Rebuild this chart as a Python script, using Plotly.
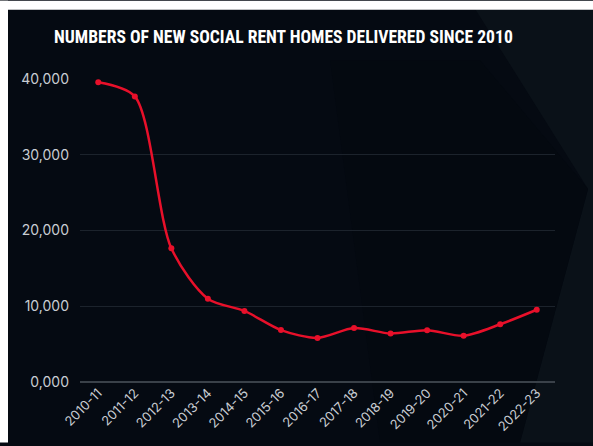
import plotly.graph_objects as go

years = ["2010-11", "2011-12", "2012-13", "2013-14", "2014-15", "2015-16", "2016-17",
         "2017-18", "2018-19", "2019-20", "2020-21", "2021-22", "2022-23"]
homes = [39580, 37700, 17650, 11000, 9380, 6850, 5820, 7120, 6400, 6840, 6100, 7620, 9540]

y_tickvals = [0, 10000, 20000, 30000, 40000]
y_ticktext = ["0,000", "10,000", "20,000", "30,000", "40,000"]
title_text = "NUMBERS OF NEW SOCIAL RENT HOMES DELIVERED SINCE 2010"

W, H = 593, 446
ml, mr, mt, mb = 80, 38, 79, 61
pw, ph = W - ml - mr, H - mt - mb

def px(x):
    return (x - ml) / pw

def py(y):
    return (H - mb - y) / ph

fig = go.Figure()
fig.add_trace(go.Scatter(
    x=years, y=homes, mode="lines+markers",
    line=dict(color="#e8102a", width=2.5, shape="spline", smoothing=0.8),
    marker=dict(color="#e8102a", size=6),
    cliponaxis=False, hoverinfo="skip",
))

shapes = [
    dict(type="path", xref="paper", yref="paper", layer="below",
         path=f"M {px(470)},{py(0)} L {px(593)},{py(0)} L {px(593)},{py(446)} L {px(520)},{py(446)} L {px(588)},{py(190)} Z",
         fillcolor="#0a1118", line=dict(width=0)),
    dict(type="path", xref="paper", yref="paper", layer="below",
         path=f"M {px(330)},{py(60)} L {px(480)},{py(60)} L {px(588)},{py(190)} L {px(520)},{py(446)} L {px(380)},{py(446)} Z",
         fillcolor="#040910", line=dict(width=0)),
    dict(type="rect", xref="paper", yref="paper", layer="above",
         x0=px(0), x1=px(W), y0=py(0), y1=py(9), fillcolor="white", line=dict(width=0)),
    dict(type="rect", xref="paper", yref="paper", layer="above",
         x0=px(0), x1=px(8), y0=py(0), y1=py(H), fillcolor="white", line=dict(width=0)),
]

fig.update_layout(
    width=W, height=H,
    margin=dict(l=ml, r=mr, t=mt, b=mb),
    paper_bgcolor="#050a12", plot_bgcolor="rgba(0,0,0,0)",
    showlegend=False,
    shapes=shapes,
    font=dict(family="Inter, Roboto, sans-serif", color="#c9cdd3", size=12),
    annotations=[dict(
        text=f"<b>{title_text}</b>", xref="paper", yref="paper",
        x=px(52), y=py(37), xanchor="left", yanchor="middle", showarrow=False,
        font=dict(family="Liberation Sans Narrow, Roboto Condensed, Roboto, sans-serif", size=17.6, color="white"),
    )],
    xaxis=dict(
        type="category", range=[-0.5, 12.5], showgrid=False, zeroline=False,
        showline=False, tickangle=-45, ticks="", ticklen=0,
        tickfont=dict(size=13, color="#c9cdd3"),
    ),
    yaxis=dict(
        range=[0, 40000], tickvals=y_tickvals, ticktext=y_ticktext,
        showgrid=True, gridcolor="#1c232c", gridwidth=1,
        zeroline=True, zerolinecolor="#3a4149", zerolinewidth=1.5,
        showline=False, ticks="", ticklabelstandoff=10,
        tickfont=dict(size=14, color="#c9cdd3"),
    ),
)

fig.write_html("out.html")
